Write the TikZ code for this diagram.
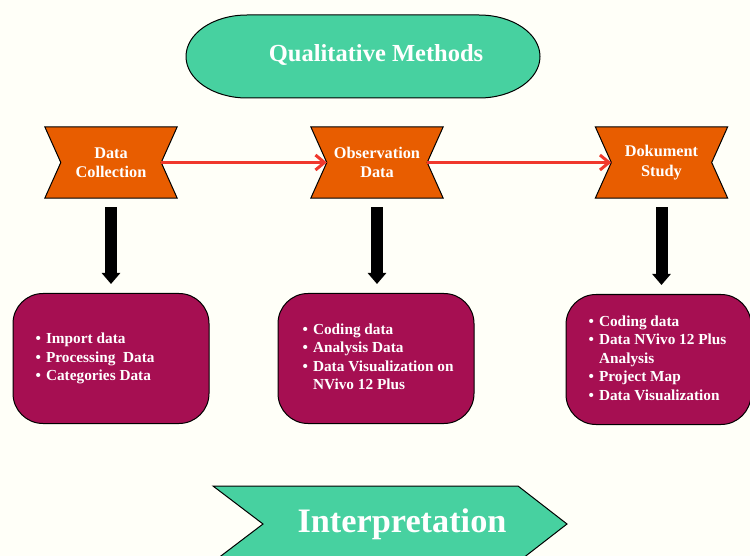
\documentclass[tikz,border=0pt]{standalone}
\usepackage{fontspec}
\setmainfont{Liberation Serif}
\usetikzlibrary{calc, positioning, arrows.meta}
\definecolor{qbg}{RGB}{255,255,248}
\definecolor{qteal}{RGB}{71,209,160}
\definecolor{qorange}{RGB}{232,93,0}
\definecolor{qwine}{RGB}{166,15,82}
\definecolor{qred}{RGB}{240,56,44}
\pgfdeclarelayer{back}
\pgfdeclarelayer{mid}
\pgfsetlayers{back,mid,main}
\tikzset{ ribbon/.style = { rectangle
                          , minimum width  = 100pt
                          , minimum height = 71pt
                          , inner sep      = 0pt
                          , align          = center
                          , text           = white
                          , font           = \bfseries\fontsize{16.3}{19.5}\selectfont
                          },
            pbox/.style = { rectangle
                          , draw           = black
                          , line width     = 1pt
                          , fill           = qwine
                          , rounded corners = 30pt
                          , minimum height = 130pt
                          },
           plist/.style = { inner sep      = 0pt
                          , text           = white
                          , font           = \bfseries\fontsize{15.3}{18.5}\selectfont
                          },
            head/.style = { inner sep      = 0pt
                          , text           = white
                          , anchor         = base
                          },
         outline/.style = { draw           = black
                          , line width     = 1pt
                          },
          redarr/.style = { draw           = qred
                          , line width     = 3pt
                          , -{Straight Barb[length=9pt, width=15pt]}
                          },
         downarr/.style = { draw           = black
                          , line width     = 12pt
                          , -{Triangle[length=11pt, width=18pt]}
                          }
        }
\begin{document}
\begin{tikzpicture}[x=1pt, y=-1pt]
  \useasboundingbox (0,0) rectangle (750,556);
  \clip (0,0) rectangle (750,556);
  \begin{pgfonlayer}{back}
    \fill[qbg] (0,0) rectangle (750,556);
  \end{pgfonlayer}
  % title
  \node[head, font=\bfseries\fontsize{24.5}{28}\selectfont] (qm) at (376,62) {Qualitative Methods};
  \begin{pgfonlayer}{mid}
    \filldraw[outline, fill=qteal] (247,15) -- (479,15)
        arc[start angle=-90, end angle=90, x radius=61, y radius=41.5] -- (247,98)
        arc[start angle=90, end angle=270, x radius=61, y radius=41.5] -- cycle;
  \end{pgfonlayer}
  % steps
  \node[ribbon] (dc) at (111,162.5) {Data\\Collection};
  \node[ribbon] (od) at (377,162.5) {Observation\\Data};
  \node[ribbon] (ds) at (661.5,162.5) {Dokument\\Study};
  \begin{pgfonlayer}{mid}
    \foreach \n in {dc, od, ds} {
      \filldraw[outline, fill=qorange] ($(\n.north west)+(-16,0)$) -- ($(\n.north east)+(16,0)$)
          -- (\n.east) -- ($(\n.south east)+(16,0)$) -- ($(\n.south west)+(-16,0)$)
          -- (\n.west) -- cycle;
    }
  \end{pgfonlayer}
  \foreach \a/\b in {dc/od, od/ds} {
    \draw[redarr] (\a.east) -- (\b.west);
  }
  % boxes
  \node[pbox, minimum width=196pt] (b1) at (111,358.5) {};
  \node[pbox, minimum width=196pt] (b2) at (376,358.5) {};
  \node[pbox, minimum width=185pt] (b3) at (658.5,359.5) {};
  \node[plist, right=23pt of b1.west] (l1) {\begin{tabular}{@{}l@{\hspace{5pt}}l@{}}
      •&Import data\\ •&Processing\ \ Data\\ •&Categories Data\end{tabular}};
  \node[plist, right=25pt of b2.west] (l2) {\begin{tabular}{@{}l@{\hspace{5pt}}l@{}}
      •&Coding data\\ •&Analysis Data\\ •&Data Visualization on\\ &NVivo 12 Plus\end{tabular}};
  \node[plist, right=23pt of b3.west] (l3) {\begin{tabular}{@{}l@{\hspace{5pt}}l@{}}
      •&Coding data\\ •&Data NVivo 12 Plus\\ &Analysis\\ •&Project Map\\ •&Data Visualization\end{tabular}};
  \foreach \a/\b in {dc/b1, od/b2, ds/b3} {
    \draw[downarr] ([yshift=-9pt]\a.south) -- ($(\a.south |- \b.north)+(0,-9)$);
  }
  % interpretation
  \filldraw[outline, fill=qteal] (213,486) -- (518,486) -- (567,524) -- (518,562)
      -- (213,562) -- (263,524) -- cycle;
  \node[head, font=\bfseries\fontsize{34.3}{40}\selectfont] (ip) at (402,532) {Interpretation};
\end{tikzpicture}
\end{document}
